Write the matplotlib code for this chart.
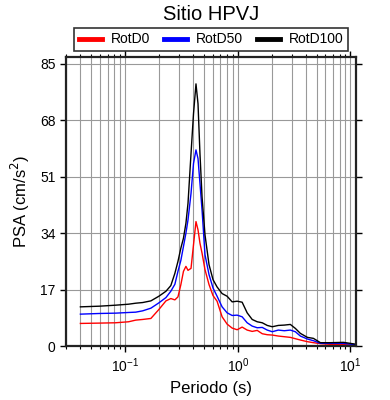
import matplotlib
matplotlib.use('Agg')
import matplotlib.pyplot as plt
import matplotlib.ticker as mticker
import numpy as np

plt.rcParams['font.family'] = ['Liberation Sans', 'DejaVu Sans']

# periodo (s)
periodo = [0.040, 0.059, 0.082, 0.107, 0.124, 0.143, 0.169, 0.199, 0.230, 0.254,
           0.276, 0.294, 0.312, 0.329, 0.346, 0.361, 0.384, 0.404, 0.425, 0.443,
           0.461, 0.481, 0.511, 0.555, 0.602, 0.654, 0.725, 0.803, 0.890, 0.986,
           1.092, 1.210, 1.341, 1.486, 1.647, 1.824, 2.022, 2.287, 2.586, 2.925,
           3.241, 3.592, 4.147, 4.690, 5.414, 6.646, 8.679, 10.88]

rotd100 = [11.8, 12.0, 12.3, 12.6, 12.9, 13.1, 13.6, 15.0, 16.5, 18.2,
           21.9, 25.5, 29.5, 32.5, 37.0, 43.0, 58.0, 70.0, 79.0, 73.0,
           58.0, 45.0, 33.5, 24.5, 20.0, 17.8, 15.8, 15.0, 13.3, 13.5,
           13.2, 10.0, 8.0, 7.3, 7.0, 6.2, 5.8, 6.2, 6.3, 6.5,
           5.3, 3.8, 2.6, 2.3, 1.0, 1.0, 1.1, 0.6]

rotd50 = [9.6, 9.8, 9.9, 10.1, 10.2, 10.6, 11.4, 13.0, 14.6, 16.5,
          18.6, 22.5, 25.8, 30.0, 34.0, 38.0, 46.0, 55.0, 59.1, 56.5,
          49.0, 41.0, 27.5, 21.5, 17.5, 15.0, 11.8, 10.0, 9.2, 9.3,
          8.8, 7.0, 6.0, 5.5, 5.6, 4.8, 4.3, 4.8, 4.6, 4.8,
          4.3, 3.0, 2.1, 1.6, 0.8, 0.8, 0.8, 0.4]

rotd0 = [6.8, 6.9, 7.0, 7.3, 7.8, 8.0, 8.3, 11.0, 13.6, 14.3,
         13.9, 14.8, 18.5, 22.5, 24.0, 22.8, 23.4, 30.5, 37.5, 35.0,
         31.0, 28.0, 23.0, 18.5, 15.2, 13.5, 8.8, 6.6, 5.4, 4.9,
         5.7, 4.8, 4.4, 4.7, 3.7, 3.4, 3.3, 3.0, 2.8, 2.6,
         2.2, 1.8, 1.3, 1.0, 0.7, 0.5, 0.4, 0.3]

yticks = [0, 17, 34, 51, 68, 85]

fig = plt.figure(figsize=(3.9, 4.0), dpi=100)
ax = fig.add_axes([66/390, 1-346/400, 290/390, 289/400])

ax.plot(periodo, rotd0, color='red', lw=1.0, label='RotD0')
ax.plot(periodo, rotd50, color='blue', lw=1.0, label='RotD50')
ax.plot(periodo, rotd100, color='black', lw=1.0, label='RotD100')

ax.set_xscale('log')
ax.set_xlim(0.0298, 11.2)
ax.set_ylim(0, 87.1)
ax.set_yticks(yticks)
ax.xaxis.set_minor_locator(mticker.LogLocator(base=10, subs=np.arange(2, 10)))
ax.xaxis.set_minor_formatter(mticker.NullFormatter())

ax.grid(True, which='both', axis='x', color='#999999', lw=0.8)
ax.grid(True, which='major', axis='y', color='#999999', lw=0.8)
ax.set_axisbelow(True)

ax.tick_params(which='both', direction='out', top=True, right=True, labelsize=10)
ax.tick_params(which='major', length=4, width=1)
ax.tick_params(which='minor', length=2.5, width=0.8)
for s in ax.spines.values():
    s.set_linewidth(1.6)
    s.set_color('#222222')

ax.set_xlabel('Periodo (s)', fontsize=12, labelpad=4)
ax.set_ylabel('PSA (cm/s$^2$)', fontsize=12, labelpad=6)
fig.text(211/390, 1-14/400, 'Sitio HPVJ', ha='center', va='center', fontsize=14.5)

lgd = ax.legend(loc='lower center', bbox_to_anchor=(0.5, 1.022), ncol=3,
                fontsize=10, frameon=True, fancybox=False, edgecolor='black',
                handlelength=1.7, handletextpad=0.6, columnspacing=1.0,
                borderpad=0.3, borderaxespad=0)
lgd.get_frame().set_linewidth(1.2)
for h in lgd.get_lines():
    h.set_linewidth(3.5)

plt.savefig('out.png', dpi=100)
